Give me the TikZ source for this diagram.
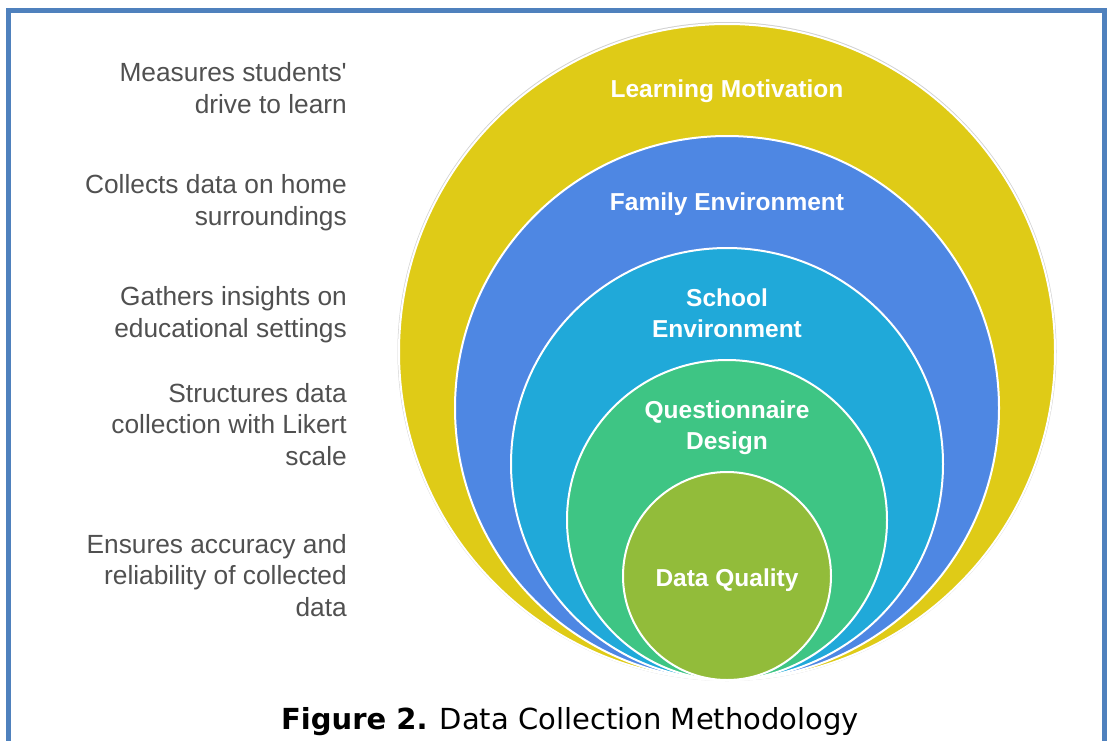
\documentclass[tikz,border=0pt]{standalone}
\usepackage{fontspec}
\setmainfont{Liberation Sans}
\newfontfamily\captionfont{DejaVu Sans}
\definecolor{framecol}{HTML}{4F81BD}
\definecolor{ringA}{HTML}{DFCB17}
\definecolor{ringB}{HTML}{4E87E3}
\definecolor{ringC}{HTML}{20A9D9}
\definecolor{ringD}{HTML}{3EC584}
\definecolor{ringE}{HTML}{92BC3A}
\definecolor{notecol}{HTML}{505050}
\tikzset{
  ring/.style={circle, inner sep=0pt, outer sep=0pt, draw=white, line width=2pt},
  ringlabel/.style={text=white, font=\fontsize{24.5}{31}\selectfont\bfseries, align=center, anchor=base, inner sep=0pt},
  note/.style={text=notecol, font=\fontsize{26.3}{31.5}\selectfont, align=right, anchor=base east, inner sep=0pt},
}
\begin{document}
\begin{tikzpicture}[x=1pt, y=-1pt]
\useasboundingbox (0,0) rectangle (1109,740);
% page frame, open at the bottom
\draw[framecol, line width=4.5pt] (8.5,742) -- (8.5,10.5) -- (1104.5,10.5) -- (1104.5,742);

% nested rings, all touching at the bottom point
\fill[black!18] (727,351.5) circle (329.5pt);
\node[ring, fill=ringA, minimum size=656pt] (motivation) at (727,352) {};
\node[ring, fill=ringB, minimum size=544pt] (family) at (727,408) {};
\node[ring, fill=ringC, minimum size=432pt] (school) at (727,464) {};
\node[ring, fill=ringD, minimum size=320pt] (questionnaire) at (727,520) {};
\node[ring, fill=ringE, minimum size=208pt] (quality) at (727,576) {};

% ring titles (the anchor sits on the last line's baseline)
\node[ringlabel] (tmotivation) at (727,97) {Learning Motivation};
\node[ringlabel] (tfamily) at (727,210) {Family Environment};
\node[ringlabel] (tschool) at (727,337) {School\\Environment};
\node[ringlabel] (tquestionnaire) at (727,449) {Questionnaire\\Design};
\node[ringlabel] (tquality) at (727,586) {Data Quality};

% descriptions on the left
\node[note] (nmotivation) at (347,113) {Measures students\textquotesingle\\drive to learn};
\node[note] (nfamily) at (347,225) {Collects data on home\\surroundings};
\node[note] (nschool) at (347,337) {Gathers insights on\\educational settings};
\node[note] (nquestionnaire) at (347,465) {Structures data\\collection with Likert\\scale};
\node[note] (nquality) at (347,616) {Ensures accuracy and\\reliability of collected\\data};

% caption
\node[font=\captionfont\fontsize{29}{34}\selectfont, anchor=base, inner sep=0pt] (caption) at (570,729) {\textbf{Figure 2.} Data Collection Methodology};
\end{tikzpicture}
\end{document}
